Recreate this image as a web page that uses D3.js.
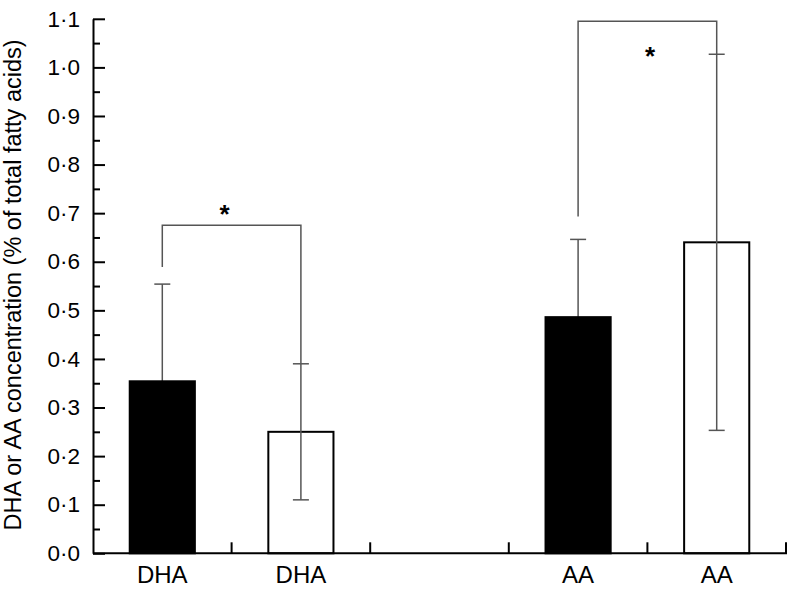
<!DOCTYPE html>
<html lang="en">
    <head>
        <meta charset="utf-8">
        <title>DHA and AA</title>
        <script src="https://d3js.org/d3.v7.min.js"></script>
        <style type="text/css">
          body {
            margin: 0;
            background: #fff;
          }
          svg {
            font-family: "Liberation Sans", Arial, sans-serif;
          }
          .axis path, .axis line {
            stroke: #000;
            stroke-width: 2;
          }
          .axis text {
            font-size: 22.5px;
            fill: #000;
          }
          .bar {
            stroke: #000;
            stroke-width: 2;
          }
          .err, .bracket {
            stroke: #555;
            stroke-width: 1.5;
            fill: none;
          }
        </style>
    </head>
    <body>
        <script type="text/javascript">

         // slots along the x axis (one empty slot between the two pairs)
         var slots = ["dha1", "dha2", "gap", "aa1", "aa2"];

         // bars
         var barKeys = ["dha1", "dha2", "aa1", "aa2"];
         var barLabels = ["DHA", "DHA", "AA", "AA"];
         var barSeries = ["a", "b", "a", "b"];
         var means = [0.354, 0.25, 0.486, 0.64];
         var sds = [0.20, 0.14, 0.16, 0.387];

         // significance brackets
         var bracketFrom = ["dha1", "aa1"];
         var bracketTo = ["dha2", "aa2"];
         var bracketTop = [0.675, 1.095];
         var bracketLeftEnd = [0.589, 0.693];
         var bracketRightEnd = [0.391, 1.027];
         var starLevel = [0.708, 1.034];
         var starFrac = [0.45, 0.52];

         var yTicks = [0, 0.1, 0.2, 0.3, 0.4, 0.5, 0.6, 0.7, 0.8, 0.9, 1.0, 1.1];
         var yMinor = [0.05, 0.15, 0.25, 0.35, 0.45, 0.55, 0.65, 0.75, 0.85, 0.95, 1.05];

         var w = 787;
         var h = 589;

         var svg = d3.select("body")
                     .append("svg")
                     .attr("width", w)
                     .attr("height", h);

         var x = d3.scaleBand()
                   .domain(slots)
                   .range([93, 786])
                   .padding(0);

         var y = d3.scaleLinear()
                   .domain([0, 1.1])
                   .range([553.3, 18.8]);

         var barW = x.bandwidth() * 0.47;
         var cx = function (k) { return x(k) + x.bandwidth() / 2; };
         var fill = { a: "#000", b: "#fff" };

         var bars = barKeys.map(function (k, i) {
             return { key: k, label: barLabels[i], series: barSeries[i], mean: means[i], sd: sds[i] };
         });

         // white bars first, then error bars, then filled bars on top
         function drawBars(list) {
             svg.selectAll(null)
                .data(list)
                .enter()
                .append("rect")
                .attr("class", "bar")
                .attr("x", function (d) { return cx(d.key) - barW / 2; })
                .attr("width", barW)
                .attr("y", function (d) { return y(d.mean); })
                .attr("height", function (d) { return y(0) - y(d.mean); })
                .style("fill", function (d) { return fill[d.series]; });
         }

         drawBars(bars.filter(function (d) { return d.series === "b"; }));

         var err = svg.selectAll(".errg")
                      .data(bars)
                      .enter()
                      .append("g");

         err.append("line")
            .attr("class", "err")
            .attr("x1", function (d) { return cx(d.key); })
            .attr("x2", function (d) { return cx(d.key); })
            .attr("y1", function (d) { return y(d.mean - d.sd); })
            .attr("y2", function (d) { return y(d.mean + d.sd); });

         [1, -1].forEach(function (sgn) {
             err.append("line")
                .attr("class", "err")
                .attr("x1", function (d) { return cx(d.key) - 8; })
                .attr("x2", function (d) { return cx(d.key) + 8; })
                .attr("y1", function (d) { return y(d.mean + sgn * d.sd); })
                .attr("y2", function (d) { return y(d.mean + sgn * d.sd); });
         });

         drawBars(bars.filter(function (d) { return d.series === "a"; }));

         // brackets + stars
         bracketFrom.forEach(function (k, i) {
             var x1 = cx(k), x2 = cx(bracketTo[i]);
             var pts = [[x1, y(bracketLeftEnd[i])], [x1, y(bracketTop[i])],
                        [x2, y(bracketTop[i])], [x2, y(bracketRightEnd[i])]];
             svg.append("path")
                .attr("class", "bracket")
                .attr("d", d3.line()(pts));
             svg.append("text")
                .attr("x", x1 + (x2 - x1) * starFrac[i])
                .attr("y", y(starLevel[i]) + 14)
                .attr("text-anchor", "middle")
                .style("font-size", "26px")
                .style("font-weight", "bold")
                .text("*");
         });

         // y axis, ticks pointing inward
         var yAxis = d3.axisLeft(y)
                       .tickValues(yTicks)
                       .tickSizeInner(-12)
                       .tickSizeOuter(0)
                       .tickPadding(13)
                       .tickFormat(function (d) { return d3.format(".1f")(d).replace(".", "\u00b7"); });

         svg.append("g")
            .attr("class", "axis")
            .attr("transform", "translate(93,0)")
            .call(yAxis);

         svg.append("g")
            .attr("class", "axis")
            .attr("transform", "translate(93,0)")
            .call(d3.axisLeft(y).tickValues(yMinor).tickSizeInner(-7).tickSizeOuter(0).tickFormat(""))
            .select(".domain").remove();

         // x axis: boundary ticks pointing up, labels under bars
         var xg = svg.append("g")
                     .attr("class", "axis")
                     .attr("transform", "translate(0," + y(0) + ")");

         xg.append("line")
           .attr("x1", 93).attr("x2", 787)
           .attr("y1", 0).attr("y2", 0);

         xg.selectAll(".bt")
           .data(slots)
           .enter()
           .append("line")
           .attr("x1", function (d) { return x(d) + x.bandwidth(); })
           .attr("x2", function (d) { return x(d) + x.bandwidth(); })
           .attr("y1", 0)
           .attr("y2", -11);

         xg.selectAll(".lbl")
           .data(bars)
           .enter()
           .append("text")
           .attr("x", function (d) { return cx(d.key); })
           .attr("y", 30)
           .attr("text-anchor", "middle")
           .style("font-size", "24px")
           .text(function (d) { return d.label; });

         svg.append("text")
            .attr("transform", "translate(21,285) rotate(-90)")
            .attr("text-anchor", "middle")
            .style("font-size", "23.5px")
            .text("DHA or AA concentration (% of total fatty acids)");

        </script>
    </body>
</html>
